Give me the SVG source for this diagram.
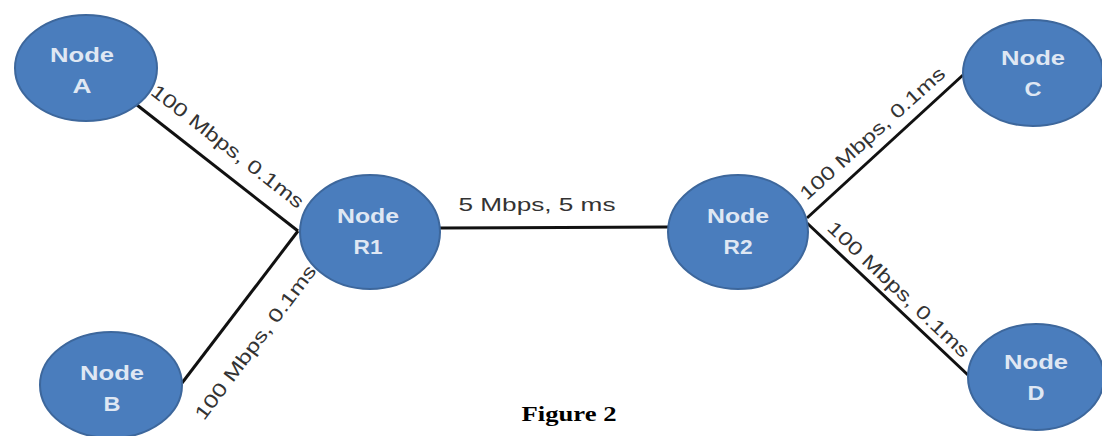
<svg xmlns="http://www.w3.org/2000/svg" width="1102" height="436" viewBox="0 0 1102 436">
<style>
.node ellipse{fill:#4a7dbd;stroke:#3d679c;stroke-width:2}
.node text{font-family:"Liberation Sans",Arial,sans-serif;font-weight:bold;font-size:20px;fill:#dfe7f3;text-anchor:middle}
.edge{stroke:#111;stroke-width:3;fill:none}
.lbl{font-family:"Liberation Sans",Arial,sans-serif;font-size:19px;fill:#333;text-anchor:middle}
.cap{font-family:"Liberation Serif","Times New Roman",serif;font-weight:bold;font-size:22px;fill:#000;text-anchor:middle}
</style>
<rect width="1102" height="436" fill="#fff"/>
<g id="connectors">
<line class="edge" x1="137" y1="105" x2="298" y2="231"/>
<line class="edge" x1="182" y1="383" x2="298" y2="231"/>
<line class="edge" x1="440" y1="228" x2="668" y2="227"/>
<line class="edge" x1="807" y1="218" x2="963" y2="75"/>
<line class="edge" x1="807" y1="223" x2="968" y2="375"/>
<text class="lbl" transform="translate(228,146) rotate(38)" y="7" textLength="188" lengthAdjust="spacingAndGlyphs">100 Mbps, 0.1ms</text>
<text class="lbl" transform="translate(255,342) rotate(-53)" y="7" textLength="188" lengthAdjust="spacingAndGlyphs">100 Mbps, 0.1ms</text>
<text class="lbl" x="537" y="211" textLength="157" lengthAdjust="spacingAndGlyphs">5 Mbps, 5 ms</text>
<text class="lbl" transform="translate(872,133) rotate(-42)" y="7" textLength="188" lengthAdjust="spacingAndGlyphs">100 Mbps, 0.1ms</text>
<text class="lbl" transform="translate(899,289) rotate(43.5)" y="7" textLength="188" lengthAdjust="spacingAndGlyphs">100 Mbps, 0.1ms</text>
</g>
<g id="nodeA" class="node"><ellipse cx="86" cy="68" rx="71" ry="53"/><text x="82" y="62" textLength="64" lengthAdjust="spacingAndGlyphs">Node</text><text x="82" y="93" textLength="19" lengthAdjust="spacingAndGlyphs">A</text></g>
<g id="nodeB" class="node"><ellipse cx="111" cy="385" rx="71" ry="53"/><text x="112" y="380" textLength="64" lengthAdjust="spacingAndGlyphs">Node</text><text x="112" y="411" textLength="17" lengthAdjust="spacingAndGlyphs">B</text></g>
<g id="nodeR1" class="node"><ellipse cx="370" cy="232" rx="70" ry="57"/><text x="368" y="223" textLength="62" lengthAdjust="spacingAndGlyphs">Node</text><text x="368" y="254" textLength="29" lengthAdjust="spacingAndGlyphs">R1</text></g>
<g id="nodeR2" class="node"><ellipse cx="738" cy="232" rx="70" ry="57"/><text x="738" y="223" textLength="62" lengthAdjust="spacingAndGlyphs">Node</text><text x="738" y="254" textLength="29" lengthAdjust="spacingAndGlyphs">R2</text></g>
<g id="nodeC" class="node"><ellipse cx="1033" cy="73" rx="70" ry="53"/><text x="1033" y="65" textLength="64" lengthAdjust="spacingAndGlyphs">Node</text><text x="1033" y="96" textLength="17" lengthAdjust="spacingAndGlyphs">C</text></g>
<g id="nodeD" class="node"><ellipse cx="1036" cy="377" rx="68" ry="53"/><text x="1036" y="369" textLength="64" lengthAdjust="spacingAndGlyphs">Node</text><text x="1036" y="400" textLength="17" lengthAdjust="spacingAndGlyphs">D</text></g>
<text class="cap" x="569" y="421" textLength="95" lengthAdjust="spacingAndGlyphs">Figure 2</text>
</svg>
